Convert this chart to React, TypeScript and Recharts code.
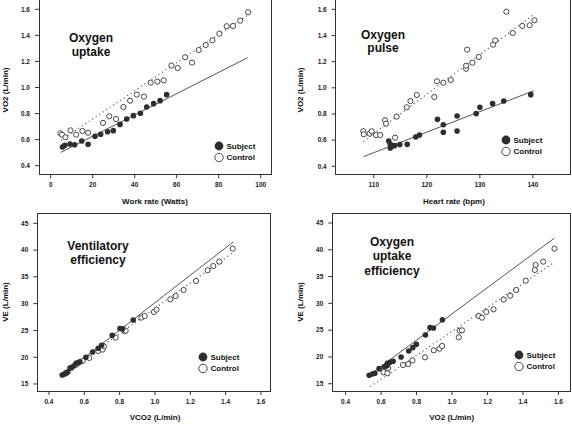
import React from 'react';
import { ScatterChart, Scatter, XAxis, YAxis, Legend } from 'recharts';

const FONT = '"Liberation Sans", Arial, Helvetica, sans-serif';

// ---------- Panel 1: Oxygen uptake (VO2 vs work rate) ----------
const p1SubjectX = [5.6, 6.7, 9.2, 11.4, 14.8, 17.8, 21.1, 23.8, 27.1, 29.8, 33.0, 36.2, 39.4, 42.7, 45.7, 49.0, 52.1, 55.2];
const p1SubjectY = [0.543, 0.556, 0.566, 0.561, 0.589, 0.564, 0.625, 0.641, 0.661, 0.669, 0.717, 0.758, 0.784, 0.802, 0.85, 0.876, 0.899, 0.945];
const p1ControlX = [4.6, 5.4, 7.0, 9.4, 12.1, 15.1, 17.8, 24.9, 27.9, 31.1, 34.6, 37.8, 41.0, 44.4, 47.6, 50.8, 53.8, 57.5, 60.5, 64.0, 67.3, 70.5, 73.8, 77.0, 80.3, 83.8, 86.8, 90.2, 94.0];
const p1ControlY = [0.648, 0.638, 0.618, 0.671, 0.638, 0.666, 0.653, 0.728, 0.779, 0.758, 0.85, 0.899, 0.945, 0.93, 1.037, 1.045, 1.055, 1.168, 1.15, 1.232, 1.191, 1.288, 1.326, 1.362, 1.413, 1.47, 1.472, 1.513, 1.577];
const p1SubjectLineX = [4.8, 93.8];
const p1SubjectLineY = [0.502, 1.229];
const p1ControlLineX = [4.8, 94.2];
const p1ControlLineY = [0.595, 1.56];
const p1XTicks = [0, 20, 40, 60, 80, 100];
const p1YTicks = [0.4, 0.6, 0.8, 1.0, 1.2, 1.4, 1.6];

// ---------- Panel 2: Oxygen pulse (VO2 vs heart rate) ----------
const p2SubjectX = [112.8, 113.1, 113.1, 113.5, 113.9, 114.9, 116.3, 117.9, 118.6, 122.0, 123.1, 123.1, 125.7, 125.7, 129.3, 130.0, 132.4, 134.5, 139.6];
const p2SubjectY = [0.594, 0.568, 0.54, 0.558, 0.558, 0.566, 0.568, 0.624, 0.639, 0.759, 0.718, 0.66, 0.785, 0.67, 0.803, 0.851, 0.879, 0.899, 0.948];
const p2ControlX = [108.0, 108.1, 109.2, 109.6, 110.4, 111.2, 112.1, 112.3, 114.0, 114.3, 116.2, 116.9, 118.1, 121.4, 121.9, 123.1, 124.5, 127.4, 127.4, 127.6, 128.6, 129.8, 132.5, 132.9, 135.0, 136.2, 138.0, 139.4, 140.3];
const p2ControlY = [0.668, 0.645, 0.65, 0.668, 0.639, 0.639, 0.752, 0.726, 0.619, 0.78, 0.851, 0.899, 0.945, 0.93, 1.05, 1.039, 1.06, 1.146, 1.169, 1.292, 1.192, 1.236, 1.33, 1.363, 1.582, 1.419, 1.473, 1.478, 1.516];
const p2SubjectLineX = [108.05, 140.2];
const p2SubjectLineY = [0.474, 0.978];
const p2ControlLineX = [108.0, 140.3];
const p2ControlLineY = [0.589, 1.564];
const p2XTicks = [110, 120, 130, 140];
const p2YTicks = [0.4, 0.6, 0.8, 1.0, 1.2, 1.4, 1.6];

// ---------- Panel 3: Ventilatory efficiency (VE vs VCO2) ----------
const p3SubjectX = [0.475, 0.487, 0.5, 0.506, 0.519, 0.528, 0.54, 0.553, 0.566, 0.575, 0.609, 0.647, 0.679, 0.698, 0.758, 0.802, 0.817, 0.877];
const p3SubjectY = [16.69, 16.87, 17.12, 17.25, 17.99, 18.05, 18.37, 18.87, 18.99, 19.12, 19.99, 20.98, 21.67, 22.23, 24.1, 25.35, 25.29, 26.95];
const p3ControlX = [0.496, 0.557, 0.591, 0.628, 0.679, 0.704, 0.711, 0.777, 0.828, 0.834, 0.923, 0.942, 0.994, 1.009, 1.087, 1.117, 1.162, 1.232, 1.298, 1.33, 1.364, 1.44];
const p3ControlY = [17.0, 18.62, 19.3, 19.86, 21.17, 21.42, 22.04, 23.66, 24.84, 24.96, 27.39, 27.7, 28.45, 28.88, 30.81, 31.43, 32.55, 34.23, 36.23, 37.03, 37.84, 40.27];
const p3SubjectLineX = [0.468, 1.443];
const p3SubjectLineY = [16.56, 41.52];
const p3ControlLineX = [0.481, 1.443];
const p3ControlLineY = [16.87, 39.59];
const p3XTicks = [0.4, 0.6, 0.8, 1.0, 1.2, 1.4, 1.6];
const p3YTicks = [15, 20, 25, 30, 35, 40, 45];

// ---------- Panel 4: Oxygen uptake efficiency (VE vs VO2) ----------
const p4SubjectX = [0.533, 0.552, 0.565, 0.589, 0.618, 0.633, 0.636, 0.651, 0.668, 0.713, 0.756, 0.779, 0.799, 0.85, 0.876, 0.895, 0.946];
const p4SubjectY = [16.56, 16.81, 16.94, 17.81, 18.18, 18.37, 18.8, 18.99, 19.18, 19.98, 21.1, 21.73, 22.35, 24.09, 25.46, 25.4, 26.95];
const p4ControlX = [0.614, 0.636, 0.64, 0.724, 0.753, 0.777, 0.848, 0.897, 0.929, 0.944, 1.038, 1.043, 1.056, 1.15, 1.169, 1.193, 1.234, 1.291, 1.328, 1.362, 1.416, 1.467, 1.471, 1.514, 1.578];
const p4ControlY = [17.12, 16.94, 17.93, 18.49, 18.68, 19.36, 19.92, 21.23, 21.54, 22.04, 23.66, 24.9, 24.96, 27.64, 27.33, 28.39, 28.88, 30.69, 31.43, 32.49, 34.23, 36.23, 37.16, 37.78, 40.21];
const p4SubjectLineX = [0.524, 1.578];
const p4SubjectLineY = [16.38, 42.2];
const p4ControlLineX = [0.539, 1.568];
const p4ControlLineY = [14.45, 37.47];
const p4XTicks = [0.4, 0.6, 0.8, 1.0, 1.2, 1.4, 1.6];
const p4YTicks = [15, 20, 25, 30, 35, 40, 45];

const zip = (xs: number[], ys: number[]) => xs.map((x, i) => ({ x, y: ys[i] }));

const FilledDot = (p: any) => <circle cx={p.cx} cy={p.cy} r={2.8} fill="#2e2e2e" />;
const OpenDot = (p: any) => (
  <circle cx={p.cx} cy={p.cy} r={2.6} fill="#ffffff" stroke="#333333" strokeWidth={0.9} />
);
const NoDot = () => <g />;

const LegendBox = () => (
  <svg width={60} height={24} style={{ display: 'block', overflow: 'visible' }}>
    <circle cx={5} cy={5} r={4.4} fill="#2e2e2e" />
    <text x={12.5} y={5} dominantBaseline="central" fontFamily={FONT} fontWeight="bold" fontSize={8} fill="#111">
      Subject
    </text>
    <circle cx={5} cy={16.5} r={4.2} fill="#ffffff" stroke="#333" strokeWidth={0.9} />
    <text x={12.5} y={16.5} dominantBaseline="central" fontFamily={FONT} fontWeight="bold" fontSize={8} fill="#111">
      Control
    </text>
  </svg>
);

type PanelProps = {
  left: number;
  top: number;
  width: number;
  height: number;
  margin: { top: number; right: number; bottom: number; left: number };
  xDomain: [number, number];
  yDomain: [number, number];
  xTicks: number[];
  yTicks: number[];
  xFmt: (v: number) => string;
  yFmt: (v: number) => string;
  subject: { x: number; y: number }[];
  control: { x: number; y: number }[];
  subjectLine: { x: number; y: number }[];
  controlLine: { x: number; y: number }[];
  xLabel: string;
  yLabel: string;
  xLabelPos: [number, number];
  yLabelPos: [number, number];
  legendPos: [number, number];
  title: string[];
  titlePos: [number, number];
  titleStep: number;
};

const tickStyle = { fontSize: 6.5, fill: '#222', fontWeight: 'bold', fontFamily: FONT } as any;

const Panel = (p: PanelProps) => {
  // plotting-region frame derived from the chart margins and axis sizes
  const fx = p.margin.left + 30;
  const fy = p.margin.top;
  const fw = p.width - p.margin.right - fx;
  const fh = p.height - p.margin.bottom - 20 - fy;
  return (
    <div style={{ position: 'absolute', left: p.left, top: p.top, width: p.width, height: p.height }}>
      <ScatterChart width={p.width} height={p.height} margin={p.margin}>
        <XAxis
          type="number"
          dataKey="x"
          domain={p.xDomain}
          ticks={p.xTicks}
          interval={0}
          tickFormatter={p.xFmt}
          tick={tickStyle}
          tickSize={4}
          tickMargin={4}
          stroke="#333"
          axisLine={false}
          tickLine={{ stroke: '#333' }}
          height={20}
          label={() => (
            <text
              x={p.xLabelPos[0]}
              y={p.xLabelPos[1]}
              textAnchor="middle"
              dominantBaseline="central"
              fontFamily={FONT}
              fontWeight="bold"
              fontSize={8}
              fill="#111"
            >
              {p.xLabel}
            </text>
          )}
        />
        <YAxis
          type="number"
          dataKey="y"
          domain={p.yDomain}
          ticks={p.yTicks}
          interval={0}
          tickFormatter={p.yFmt}
          tick={tickStyle}
          tickSize={4}
          tickMargin={5}
          stroke="#333"
          axisLine={false}
          tickLine={{ stroke: '#333' }}
          width={30}
          label={() => (
            <text
              transform={`translate(${p.yLabelPos[0]},${p.yLabelPos[1]}) rotate(-90)`}
              textAnchor="middle"
              dominantBaseline="central"
              fontFamily={FONT}
              fontWeight="bold"
              fontSize={8}
              fill="#111"
            >
              {p.yLabel}
            </text>
          )}
        />
        <Scatter
          data={p.subjectLine}
          line={{ stroke: '#555', strokeWidth: 1 }}
          lineType="joint"
          shape={NoDot}
          legendType="none"
          isAnimationActive={false}
        />
        <Scatter
          data={p.controlLine}
          line={{ stroke: '#555', strokeWidth: 1.1, strokeDasharray: '1.2 3' }}
          lineType="joint"
          shape={NoDot}
          legendType="none"
          isAnimationActive={false}
        />
        <Scatter name="Control" data={p.control} shape={OpenDot} isAnimationActive={false} />
        <Scatter name="Subject" data={p.subject} shape={FilledDot} isAnimationActive={false} />
        <Legend
          layout="vertical"
          align="center"
          verticalAlign="middle"
          wrapperStyle={{ left: p.legendPos[0], top: p.legendPos[1], width: 60, height: 24 }}
          content={() => <LegendBox />}
        />
      </ScatterChart>
      <div
        style={{
          position: 'absolute',
          left: fx - 0.5,
          top: fy - 0.5,
          width: fw + 1,
          height: fh + 1,
          border: '1px solid #333',
          boxSizing: 'border-box',
          pointerEvents: 'none',
        }}
      />
      {p.title.map((line, i) => (
        <div
          key={line}
          style={{
            position: 'absolute',
            left: p.titlePos[0] - 70,
            top: p.titlePos[1] + i * p.titleStep - 12,
            width: 140,
            textAlign: 'center',
            fontFamily: FONT,
            fontWeight: 'bold',
            fontSize: 12,
            lineHeight: '14px',
            color: '#111',
            whiteSpace: 'nowrap',
            pointerEvents: 'none',
          }}
        >
          {line}
        </div>
      ))}
    </div>
  );
};

const fmt0 = (v: number) => String(Math.round(v));
const fmt1 = (v: number) => v.toFixed(1);

export default function App() {
  return (
    <div style={{ position: 'absolute', left: 0, top: 0, width: 572, height: 425 }}>
      <Panel
        left={0}
        top={-2}
        width={286}
        height={214}
        margin={{ top: 1, right: 15, bottom: 17.7, left: 9 }}
        xDomain={[-5.57, 104.9]}
        yDomain={[0.334, 1.679]}
        xTicks={p1XTicks}
        yTicks={p1YTicks}
        xFmt={fmt0}
        yFmt={fmt1}
        subject={zip(p1SubjectX, p1SubjectY)}
        control={zip(p1ControlX, p1ControlY)}
        subjectLine={zip(p1SubjectLineX, p1SubjectLineY)}
        controlLine={zip(p1ControlLineX, p1ControlLineY)}
        xLabel="Work rate (Watts)"
        yLabel="VO2 (L/min)"
        xLabelPos={[155, 203]}
        yLabelPos={[5.5, 92]}
        legendPos={[214.3, 142.7]}
        title={['Oxygen', 'uptake']}
        titlePos={[91, 45]}
        titleStep={14}
      />
      <Panel
        left={286}
        top={-2}
        width={286}
        height={214}
        margin={{ top: 1, right: 1.5, bottom: 17.7, left: 19.7 }}
        xDomain={[102.8, 147.1]}
        yDomain={[0.339, 1.679]}
        xTicks={p2XTicks}
        yTicks={p2YTicks}
        xFmt={fmt0}
        yFmt={fmt1}
        subject={zip(p2SubjectX, p2SubjectY)}
        control={zip(p2ControlX, p2ControlY)}
        subjectLine={zip(p2SubjectLineX, p2SubjectLineY)}
        controlLine={zip(p2ControlLineX, p2ControlLineY)}
        xLabel="Heart rate (bpm)"
        yLabel="VO2 (L/min)"
        xLabelPos={[168, 203]}
        yLabelPos={[14, 92]}
        legendPos={[215, 137]}
        title={['Oxygen', 'pulse']}
        titlePos={[97, 42]}
        titleStep={13}
      />
      <Panel
        left={0}
        top={212}
        width={286}
        height={213}
        margin={{ top: 1.5, right: 15.3, bottom: 14, left: 7.3 }}
        xDomain={[0.334, 1.655]}
        yDomain={[13.69, 46.83]}
        xTicks={p3XTicks}
        yTicks={p3YTicks}
        xFmt={fmt1}
        yFmt={fmt0}
        subject={zip(p3SubjectX, p3SubjectY)}
        control={zip(p3ControlX, p3ControlY)}
        subjectLine={zip(p3SubjectLineX, p3SubjectLineY)}
        controlLine={zip(p3ControlLineX, p3ControlLineY)}
        xLabel="VCO2 (L/min)"
        yLabel="VE (L/min)"
        xLabelPos={[155, 205.7]}
        yLabelPos={[5.5, 90]}
        legendPos={[197.7, 140.3]}
        title={['Ventilatory', 'efficiency']}
        titlePos={[98, 39]}
        titleStep={14}
      />
      <Panel
        left={286}
        top={212}
        width={286}
        height={213}
        margin={{ top: 1.5, right: 1.5, bottom: 14, left: 16.3 }}
        xDomain={[0.325, 1.668]}
        yDomain={[13.64, 46.77]}
        xTicks={p4XTicks}
        yTicks={p4YTicks}
        xFmt={fmt1}
        yFmt={fmt0}
        subject={zip(p4SubjectX, p4SubjectY)}
        control={zip(p4ControlX, p4ControlY)}
        subjectLine={zip(p4SubjectLineX, p4SubjectLineY)}
        controlLine={zip(p4ControlLineX, p4ControlLineY)}
        xLabel="VO2 (L/min)"
        yLabel="VE (L/min)"
        xLabelPos={[165.7, 205.7]}
        yLabelPos={[14, 90]}
        legendPos={[227.7, 138.3]}
        title={['Oxygen', 'uptake', 'efficiency']}
        titlePos={[106, 34.5]}
        titleStep={14.5}
      />
    </div>
  );
}
